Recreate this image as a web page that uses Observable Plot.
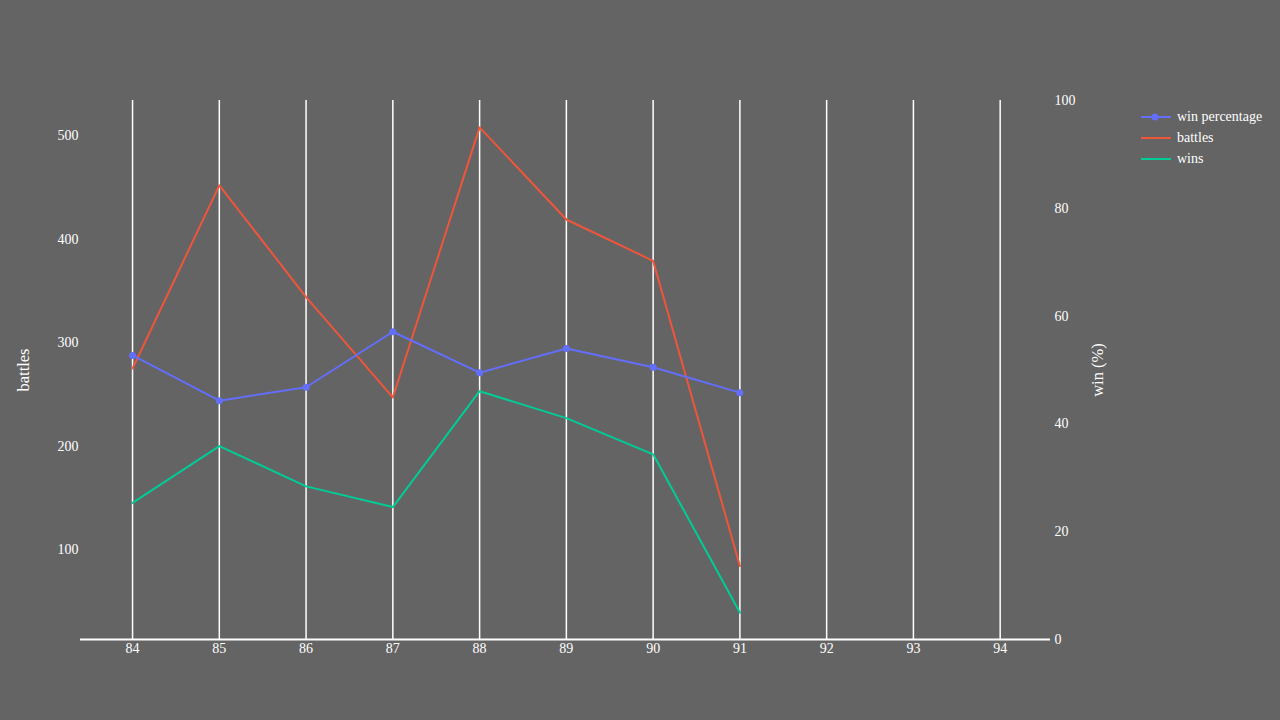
<!DOCTYPE html>
<html>
<head>
<meta charset="utf-8">
<script src="https://cdn.jsdelivr.net/npm/d3@7"></script>
<script src="https://cdn.jsdelivr.net/npm/@observablehq/plot@0.6"></script>
<style>
  html, body { margin: 0; padding: 0; background: #646464; }
  #wrap { position: relative; width: 1280px; height: 720px; background: #646464; font-family: "Liberation Serif", "Times New Roman", serif; color: white; }
  #legend { position: absolute; left: 1140px; top: 106px; font-size: 14px; }
  .row { display: flex; align-items: center; height: 21px; }
  .row span { margin-left: 5px; }
  svg g[aria-label="y-axis label"] text { font-size: 16.5px; }
</style>
</head>
<body>
<div id="wrap"><div id="legend"></div></div>
<script>
const years = [84, 85, 86, 87, 88, 89, 90, 91];
const battles = [275, 452, 344, 247, 508, 419, 379, 84];
const wins = [145, 200, 161, 141, 253, 227, 192, 39];
const winPct = [52.7, 44.3, 46.8, 57.1, 49.5, 54.0, 50.5, 45.8];
const xTicks = [84, 85, 86, 87, 88, 89, 90, 91, 92, 93, 94];
const leftTicks = [100, 200, 300, 400, 500];
const rightTicks = [0, 20, 40, 60, 80, 100];
const seriesNames = ["win percentage", "battles", "wins"];
const seriesColors = ["#636efa", "#EF553B", "#00cc96"];

const yDomain = [13, 534];
const xDomain = [83.4, 94.58];
const pctToY = p => yDomain[0] + p / 100 * (yDomain[1] - yDomain[0]);
const yToPct = v => (v - yDomain[0]) / (yDomain[1] - yDomain[0]) * 100;

const rows = years.map((yr, i) => ({year: yr, battles: battles[i], wins: wins[i], pct: winPct[i]}));

const chart = Plot.plot({
  width: 1280,
  height: 720,
  marginLeft: 80,
  marginRight: 230,
  marginTop: 100,
  marginBottom: 81,
  style: {background: "transparent", color: "white", fontFamily: "'Liberation Serif', 'Times New Roman', serif", fontSize: "14px"},
  x: {domain: xDomain},
  y: {domain: yDomain},
  marks: [
    Plot.ruleX(xTicks, {stroke: "white", strokeWidth: 1.5}),
    Plot.ruleY([yDomain[0]], {stroke: "white", strokeWidth: 2}),
    Plot.axisX({ticks: xTicks, tickSize: 0, tickPadding: 4, tickFormat: d => String(d), label: null}),
    Plot.axisY({anchor: "left", ticks: leftTicks, tickSize: 0, tickPadding: 2, tickFormat: d => String(d), label: "battles", labelAnchor: "center", labelOffset: 63, labelArrow: "none"}),
    Plot.axisY({anchor: "right", ticks: rightTicks.map(pctToY), tickSize: 0, tickPadding: 4, tickFormat: v => String(Math.round(yToPct(v))), label: "win (%)", labelAnchor: "center", labelOffset: 52, labelArrow: "none"}),
    Plot.line(rows, {x: "year", y: "battles", stroke: seriesColors[1], strokeWidth: 2}),
    Plot.line(rows, {x: "year", y: "wins", stroke: seriesColors[2], strokeWidth: 2}),
    Plot.line(rows, {x: "year", y: d => pctToY(d.pct), stroke: seriesColors[0], strokeWidth: 2}),
    Plot.dot(rows, {x: "year", y: d => pctToY(d.pct), fill: seriesColors[0], r: 3.5})
  ]
});
document.getElementById("wrap").insertBefore(chart, document.getElementById("legend"));

const legend = document.getElementById("legend");
seriesNames.forEach((name, i) => {
  const row = document.createElement("div");
  row.className = "row";
  const dot = i === 0 ? `<circle cx="15" cy="5" r="3.5" fill="${seriesColors[i]}"/>` : "";
  row.innerHTML = `<svg width="32" height="10"><line x1="1" y1="5" x2="31" y2="5" stroke="${seriesColors[i]}" stroke-width="2"/>${dot}</svg><span>${name}</span>`;
  legend.appendChild(row);
});
</script>
</body>
</html>
